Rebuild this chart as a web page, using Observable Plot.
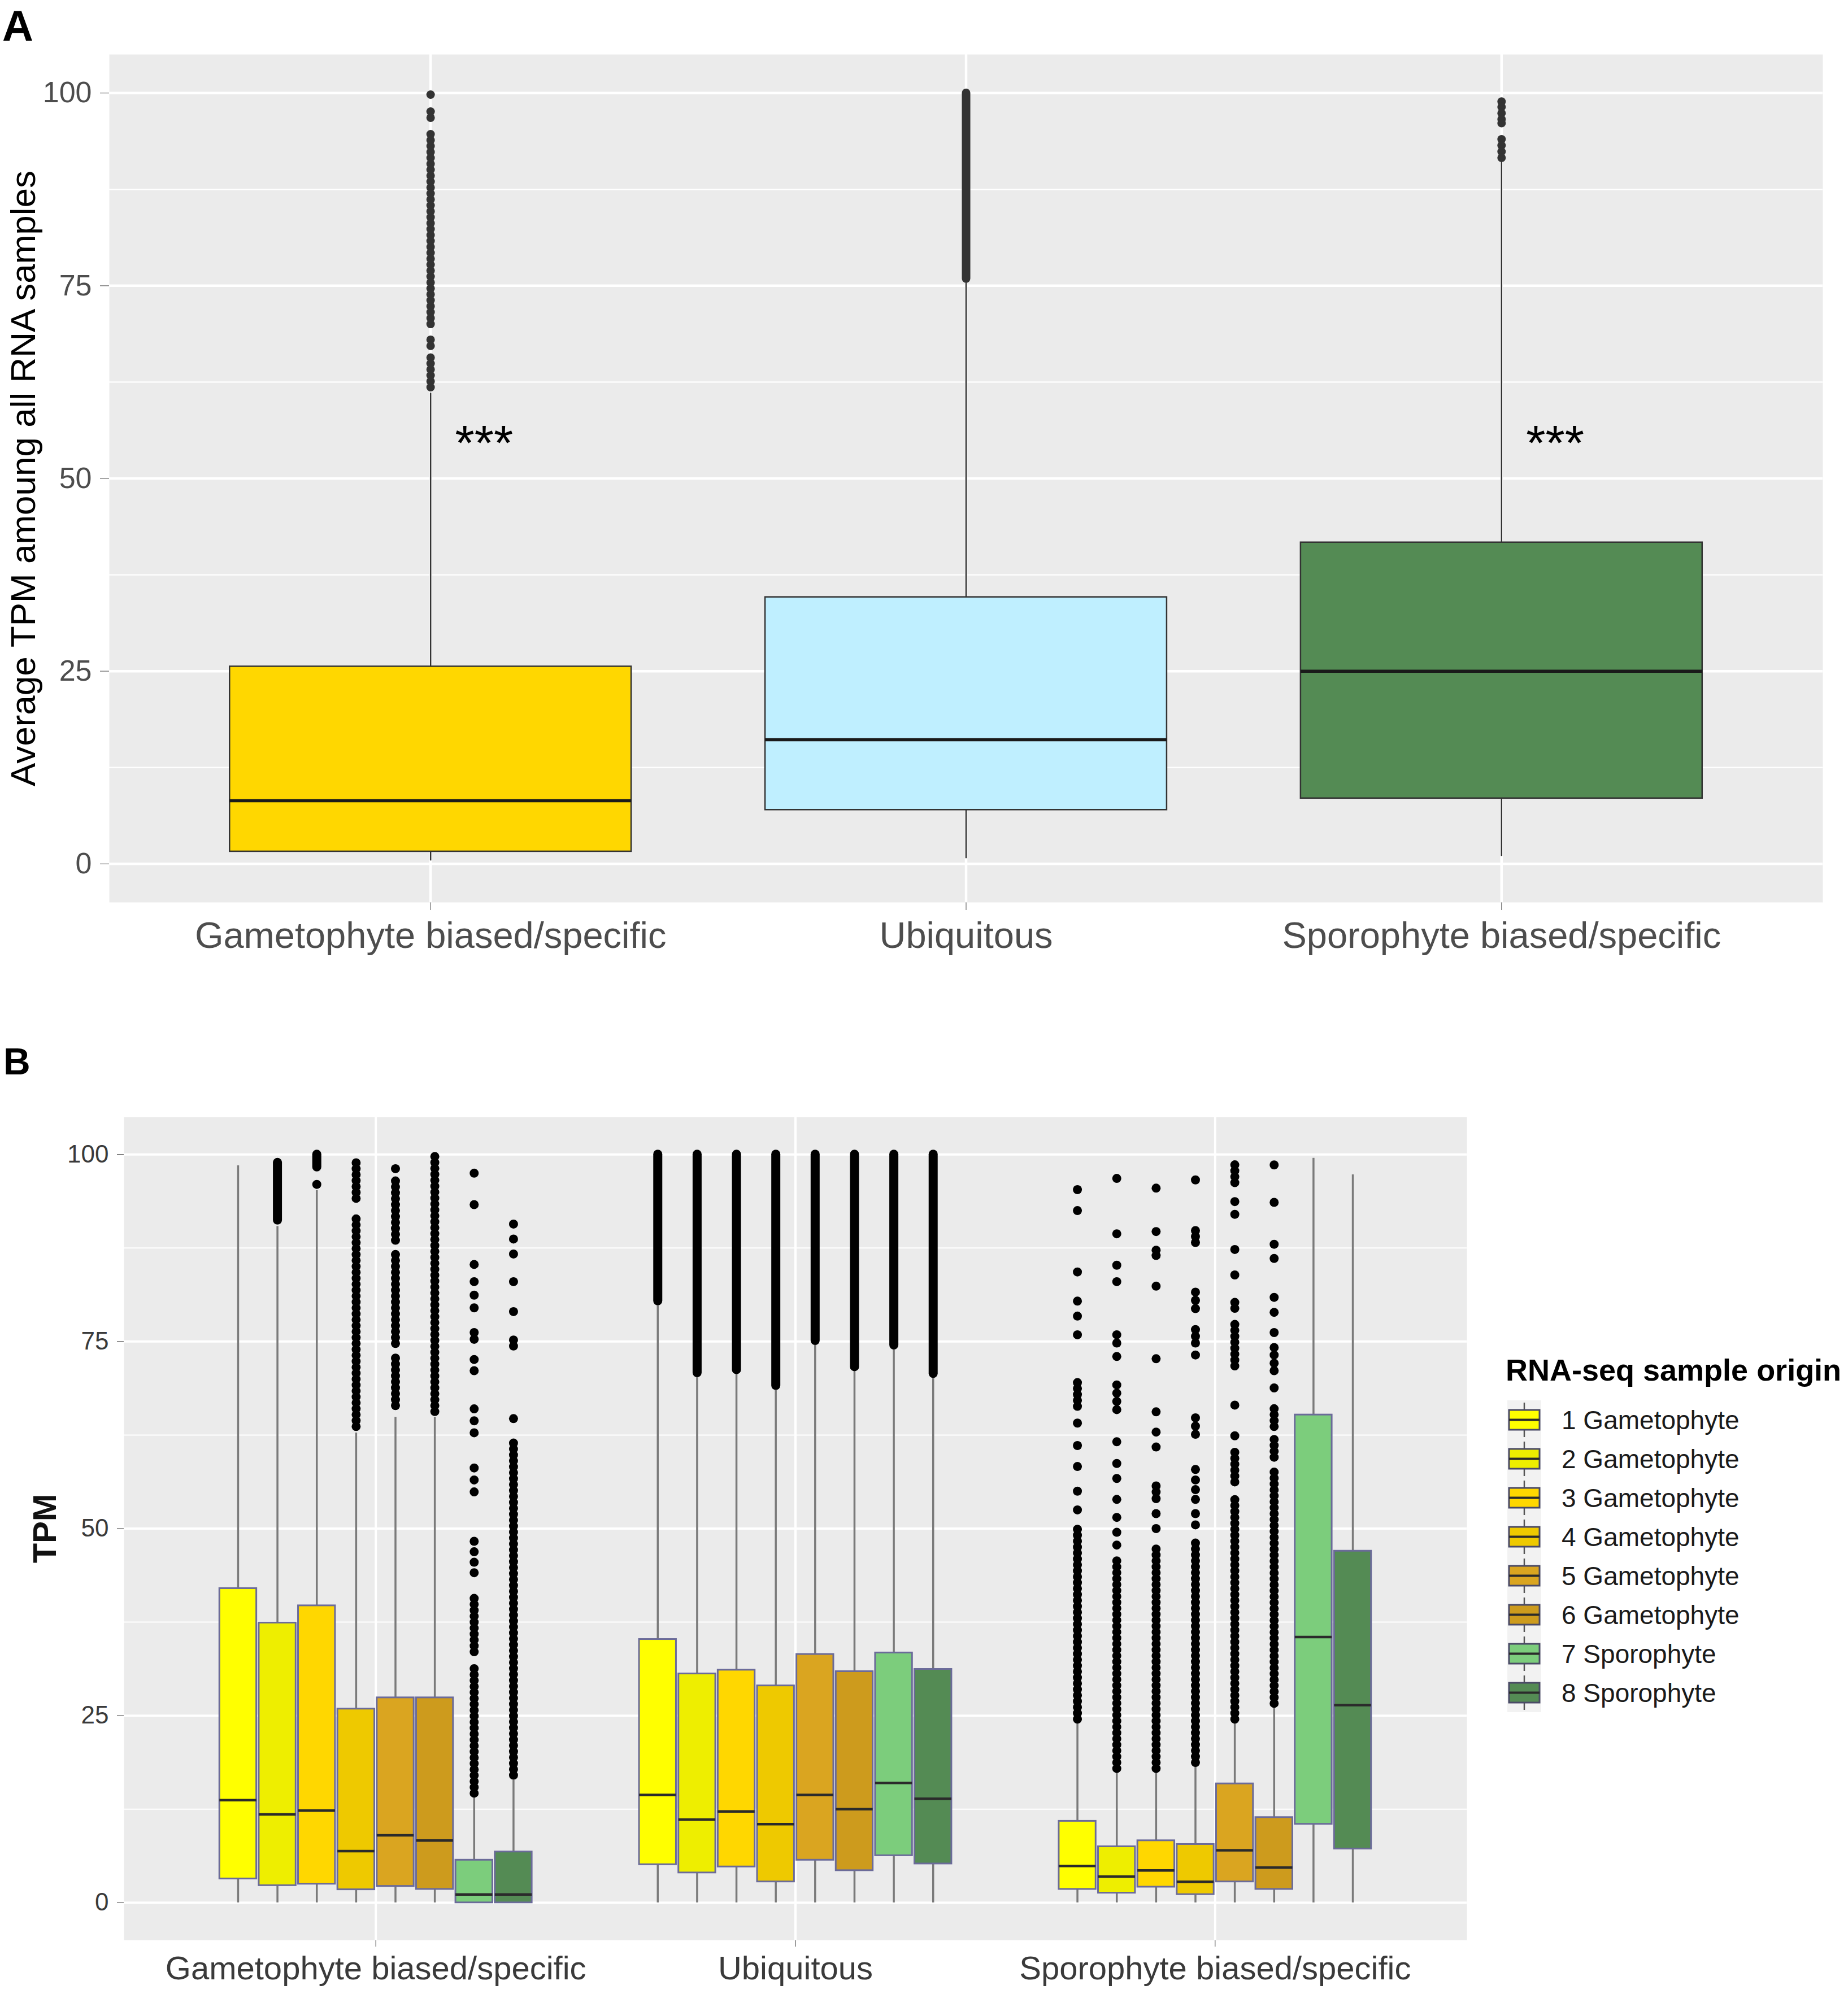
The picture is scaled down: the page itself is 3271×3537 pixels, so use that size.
<!DOCTYPE html>
<html><head><meta charset="utf-8">
<script src="https://cdn.jsdelivr.net/npm/d3@7"></script>
<script src="https://cdn.jsdelivr.net/npm/@observablehq/plot@0.6"></script>
<style>
html,body{margin:0;padding:0;background:#fff;}
#wrap{position:relative;width:3271px;height:3537px;background:#fff;font-family:"Liberation Sans",Arial,sans-serif;overflow:hidden;}
.panel{position:absolute;left:0;}
.tag{position:absolute;font-weight:bold;line-height:1.2;color:#000;}
.legtitle{position:absolute;font-weight:bold;font-size:54px;line-height:66px;color:#000;white-space:nowrap;}
.legrow{position:absolute;height:69px;display:flex;align-items:center;white-space:nowrap;}
.legrow span{font-size:46px;color:#1a1a1a;margin-left:36px;}
</style></head><body><div id="wrap"></div>
<script>
// ---------------- data ----------------
const groups = ["Gametophyte biased/specific", "Ubiquitous", "Sporophyte biased/specific"];
const yMajor = [0, 25, 50, 75, 100];
const yMinor = [12.5, 37.5, 62.5, 87.5];

// Panel A
const colorsA = ["#FFD700", "#BFEFFF", "#548B54"];
const loA  = [0.4, 0.7, 1.0];
const q1A  = [1.6, 7.0, 8.5];
const medA = [8.2, 16.1, 25.0];
const q3A  = [25.6, 34.6, 41.7];
const hiA  = [61.1, 75.4, 91.1];
const singlesA = [[99.8, 97.6, 96.8, 68.0, 67.2], [], [98.9, 98.2, 97.4, 96.6, 96.1, 94.0, 93.2, 92.4, 91.6]];
const denseA = [[[61.8, 66.2], [70.0, 95.2]], [[75.9, 100]], []];
const beadA = [true, false, false];
const starsA = [{group: 1, y: 54.5}, {group: 3, y: 54.5}];
const starText = "***";

// Panel B
const samplesB = ["1 Gametophyte", "2 Gametophyte", "3 Gametophyte", "4 Gametophyte", "5 Gametophyte", "6 Gametophyte", "7 Sporophyte", "8 Sporophyte"];
const colorsB = ["#FFFF00", "#EEEE00", "#FFD700", "#EEC900", "#DAA520", "#CD9B1D", "#7CCD7C", "#548B54"];
const loB = [
  [0, 0, 0, 0, 0, 0, 0, 0],
  [0, 0, 0, 0, 0, 0, 0, 0],
  [0, 0, 0, 0, 0, 0, 0, 0]];
const q1B = [
  [3.2, 2.3, 2.5, 1.75, 2.2, 1.8, 0.0, 0.0],
  [5.1, 4.0, 4.8, 2.8, 5.7, 4.3, 6.3, 5.2],
  [1.8, 1.3, 2.1, 1.1, 2.8, 1.8, 10.5, 7.2]];
const medB = [
  [13.7, 11.8, 12.3, 6.9, 9.0, 8.3, 1.1, 1.1],
  [14.4, 11.1, 12.2, 10.5, 14.4, 12.5, 16.0, 13.9],
  [4.9, 3.5, 4.3, 2.8, 7.0, 4.7, 35.5, 26.4]];
const q3B = [
  [42.0, 37.4, 39.7, 25.9, 27.4, 27.4, 5.7, 6.8],
  [35.2, 30.6, 31.1, 29.0, 33.2, 30.9, 33.4, 31.2],
  [10.9, 7.5, 8.3, 7.8, 15.9, 11.4, 65.2, 47.0]];
const hiB = [
  [98.5, 90.4, 95.2, 62.8, 64.9, 64.9, 14.0, 16.4],
  [79.8, 70.2, 70.6, 68.5, 74.5, 71.0, 73.9, 70.1],
  [24.0, 17.4, 17.4, 18.2, 24.0, 26.1, 99.5, 97.3]];
const denseB = [
  [[], [[91.2, 98.9]], [[98.3, 100]], [[94.1, 99.5], [63.6, 91.8]], [[88.5, 96.6], [74.7, 86.8], [66.4, 73.5]], [[65.6, 100]], [[14.6, 32.0], [33.5, 41.4]], [[17.0, 61.5]]],
  [[[80.4, 100]], [[70.8, 100]], [[71.2, 100]], [[69.1, 100]], [[75.1, 100]], [[71.6, 100]], [[74.5, 100]], [[70.7, 100]]],
  [[[66.3, 70.2], [24.5, 50.0]], [[17.9, 46.0]], [[17.9, 48.0]], [[88.2, 90.2], [18.7, 48.5]], [[96.2, 99.1], [79.4, 80.8], [71.7, 77.4], [56.2, 60.6], [24.5, 54.5]], [[63.6, 66.5], [59.5, 62.6], [26.6, 57.9]], [], []]];
// whether a dense run shows as separate overlapping dots (true) or a solid column (false)
const beadB = [
  [false, false, false, true, true, true, true, true],
  [false, false, false, false, false, false, false, false],
  [true, true, true, true, true, true, false, false]];
const singlesB = [
  [[], [], [96.0], [], [98.1], [], [97.5, 93.3, 85.3, 83.0, 81.2, 79.5, 76.2, 75.3, 72.6, 71.1, 66.0, 64.4, 62.8, 58.1, 56.5, 54.9, 48.3, 46.9, 45.5, 44.1], [90.7, 88.7, 86.7, 83.0, 79.0, 75.2, 74.4, 64.7]],
  [[], [], [], [], [], [], [], []],
  [[95.3, 92.5, 84.3, 80.4, 78.4, 75.9, 64.1, 61.1, 58.3, 55.0, 52.5],
   [96.8, 89.4, 85.2, 83.0, 75.9, 74.8, 73.0, 69.2, 68.1, 67.0, 65.9, 61.6, 58.7, 56.7, 53.9, 51.5, 49.5, 47.8],
   [95.5, 89.7, 87.2, 86.5, 82.4, 72.7, 65.6, 62.9, 60.9, 55.7, 54.9, 54.0, 52.0, 50.0],
   [96.6, 81.6, 80.5, 79.4, 76.6, 75.7, 74.8, 73.2, 64.8, 63.7, 62.6, 57.9, 56.5, 55.2, 53.9, 52.0, 50.5],
   [93.7, 92.0, 87.3, 83.9, 66.5, 62.4],
   [98.6, 93.6, 88.0, 86.1, 80.9, 78.9, 76.2, 74.2, 73.2, 72.1, 71.1, 68.8],
   [], []]];

const titleA = "Average TPM amoung all RNA samples";
const titleB = "TPM";
const legendTitle = "RNA-seq sample origin";

// ---------------- build tables ----------------
const FONT = '"Liberation Sans", Arial, sans-serif';
const halfA = 0.375;
const rowsA = groups.map((g, i) => ({pos: i + 1, color: colorsA[i], lo: loA[i], q1: q1A[i], med: medA[i], q3: q3A[i], hi: hiA[i]}));
const dotsA = [], rangesA = [];
groups.forEach((g, i) => {
  singlesA[i].forEach(v => dotsA.push({pos: i + 1, v}));
  denseA[i].forEach(([lo, hi]) => rangesA.push({pos: i + 1, lo, hi, bead: beadA[i]}));
});

const stepB = 0.09375, halfB = 0.044;
const rowsB = [], dotsB = [], rangesB = [];
groups.forEach((g, gi) => samplesB.forEach((s, k) => {
  const pos = gi + 1 + (k - 3.5) * stepB;
  rowsB.push({pos, color: colorsB[k], lo: loB[gi][k], q1: q1B[gi][k], med: medB[gi][k], q3: q3B[gi][k], hi: hiB[gi][k]});
  singlesB[gi][k].forEach(v => dotsB.push({pos, v}));
  denseB[gi][k].forEach(([lo, hi]) => rangesB.push({pos, lo, hi, bead: beadB[gi][k]}));
}));

function setAxisFont(svg, prefix, size, color) {
  svg.querySelectorAll(`g[aria-label^="${prefix}"]`).forEach(g => {
    g.style.fontSize = size + "px";
    if (color) g.style.color = color;
  });
}

// ---------------- panel A ----------------
const plotA = Plot.plot({
  width: 3271, height: 1720,
  marginTop: 96, marginBottom: 123, marginLeft: 193, marginRight: 45,
  style: {fontFamily: FONT, fontSize: "52px", color: "#4D4D4D", background: "transparent", overflow: "visible"},
  x: {type: "linear", domain: [0.4, 3.6], ticks: [1, 2, 3], tickFormat: i => groups[i - 1], tickSize: 14, tickPadding: 20, label: null},
  y: {domain: [-5, 105], ticks: yMajor, tickSize: 16, tickPadding: 15, label: null},
  marks: [
    Plot.frame({fill: "#EBEBEB", stroke: "none"}),
    Plot.ruleY(yMinor, {stroke: "#FFFFFF", strokeWidth: 2.2}),
    Plot.ruleY(yMajor, {stroke: "#FFFFFF", strokeWidth: 4.5}),
    Plot.ruleX([1, 2, 3], {stroke: "#FFFFFF", strokeWidth: 4.5}),
    Plot.ruleX(rowsA, {x: "pos", y1: "lo", y2: "hi", stroke: "#333333", strokeWidth: 2.5}),
    Plot.ruleX(rangesA.filter(d => !d.bead), {x: "pos", y1: "lo", y2: "hi", stroke: "#333333", strokeWidth: 15, strokeLinecap: "round"}),
    Plot.ruleX(rangesA.filter(d => d.bead), {x: "pos", y1: "lo", y2: "hi", stroke: "#333333", strokeWidth: 15, strokeLinecap: "round", strokeDasharray: "0 10.5"}),
    Plot.dot(dotsA, {x: "pos", y: "v", r: 7.5, fill: "#333333", stroke: "none"}),
    Plot.rect(rowsA, {x1: d => d.pos - halfA, x2: d => d.pos + halfA, y1: "q1", y2: "q3", fill: "color", stroke: "#333333", strokeWidth: 2.5}),
    Plot.ruleY(rowsA, {y: "med", x1: d => d.pos - halfA, x2: d => d.pos + halfA, stroke: "#1A1A1A", strokeWidth: 5.5}),
    Plot.text(starsA, {x: d => d.group + 0.1, y: "y", text: () => starText, fontSize: 88, fill: "#000000"}),
    Plot.text([titleA], {text: d => d, frameAnchor: "left", textAnchor: "middle", dx: -151, rotate: -90, fontSize: 62, fill: "#000000"})
  ]
});
setAxisFont(plotA, "x-axis", 65);
setAxisFont(plotA, "y-axis", 52);

// ---------------- panel B ----------------
const plotB = Plot.plot({
  width: 3271, height: 1777,
  marginTop: 217, marginBottom: 103, marginLeft: 219, marginRight: 675,
  style: {fontFamily: FONT, fontSize: "44px", color: "#3A3A3A", background: "transparent", overflow: "visible"},
  x: {type: "linear", domain: [0.4, 3.6], ticks: [1, 2, 3], tickFormat: i => groups[i - 1], tickSize: 12, tickPadding: 16, label: null},
  y: {domain: [-5, 105], ticks: yMajor, tickSize: 12, tickPadding: 15, label: null},
  marks: [
    Plot.frame({fill: "#EBEBEB", stroke: "none"}),
    Plot.ruleY(yMinor, {stroke: "#FFFFFF", strokeWidth: 2}),
    Plot.ruleY(yMajor, {stroke: "#FFFFFF", strokeWidth: 4}),
    Plot.ruleX([1, 2, 3], {stroke: "#FFFFFF", strokeWidth: 4}),
    Plot.ruleX(rowsB, {x: "pos", y1: "lo", y2: "hi", stroke: "#7A7A7A", strokeWidth: 3.5}),
    Plot.ruleX(rangesB.filter(d => !d.bead), {x: "pos", y1: "lo", y2: "hi", stroke: "#000000", strokeWidth: 16, strokeLinecap: "round"}),
    Plot.ruleX(rangesB.filter(d => d.bead), {x: "pos", y1: "lo", y2: "hi", stroke: "#000000", strokeWidth: 16, strokeLinecap: "round", strokeDasharray: "0 10.5"}),
    Plot.dot(dotsB, {x: "pos", y: "v", r: 8, fill: "#000000", stroke: "none"}),
    Plot.rect(rowsB, {x1: d => d.pos - halfB, x2: d => d.pos + halfB, y1: "q1", y2: "q3", fill: "color", stroke: "#6B6B99", strokeWidth: 3}),
    Plot.ruleY(rowsB, {y: "med", x1: d => d.pos - halfB, x2: d => d.pos + halfB, stroke: "#2B2B2B", strokeWidth: 4.5}),
    Plot.text([titleB], {text: d => d, frameAnchor: "left", textAnchor: "middle", dx: -139, rotate: -90, fontSize: 58, fontWeight: "bold", fill: "#111111"})
  ]
});
setAxisFont(plotB, "x-axis", 58);
setAxisFont(plotB, "y-axis", 44);

// ---------------- assemble ----------------
const wrap = document.getElementById("wrap");
plotA.classList.add("panel"); plotA.style.top = "0px";
plotB.classList.add("panel"); plotB.style.top = "1760px";
wrap.appendChild(plotA);
wrap.appendChild(plotB);

const tagA = document.createElement("div");
tagA.className = "tag"; tagA.textContent = "A";
tagA.style.cssText += "left:4px;top:0px;font-size:76px;";
wrap.appendChild(tagA);
const tagB = document.createElement("div");
tagB.className = "tag"; tagB.textContent = "B";
tagB.style.cssText += "left:6px;top:1840px;font-size:66px;";
wrap.appendChild(tagB);

// legend
const lt = document.createElement("div");
lt.className = "legtitle"; lt.textContent = legendTitle;
lt.style.left = "2665px"; lt.style.top = "2392px";
wrap.appendChild(lt);
samplesB.forEach((s, k) => {
  const row = document.createElement("div");
  row.className = "legrow";
  row.style.left = "2668px";
  row.style.top = (2479 + 69 * k) + "px";
  const ns = "http://www.w3.org/2000/svg";
  const svg = document.createElementNS(ns, "svg");
  svg.setAttribute("width", 60); svg.setAttribute("height", 69);
  const mk = (tag, attrs) => { const e = document.createElementNS(ns, tag); for (const a in attrs) e.setAttribute(a, attrs[a]); svg.appendChild(e); return e; };
  mk("rect", {x: 0, y: 0, width: 60, height: 69, fill: "#F2F2F2"});
  mk("line", {x1: 30, x2: 30, y1: 4, y2: 65, stroke: "#555", "stroke-width": 2.5});
  mk("rect", {x: 3, y: 17, width: 54, height: 35, fill: colorsB[k], stroke: "#4A4A66", "stroke-width": 3});
  mk("line", {x1: 3, x2: 57, y1: 34.5, y2: 34.5, stroke: "#2B2B2B", "stroke-width": 4});
  row.appendChild(svg);
  const sp = document.createElement("span");
  sp.textContent = s;
  row.appendChild(sp);
  wrap.appendChild(row);
});
</script>
</body></html>
